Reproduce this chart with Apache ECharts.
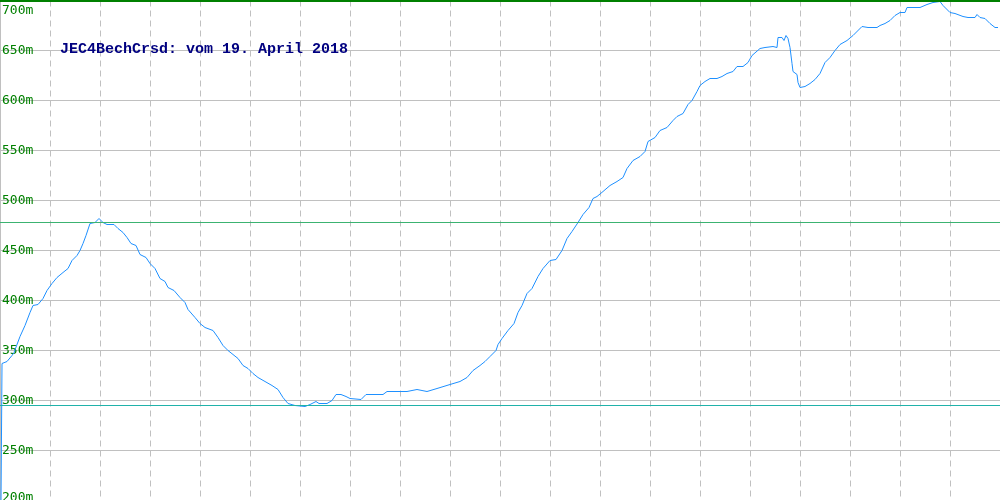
<!DOCTYPE html>
<html>
<head>
<meta charset="utf-8">
<script src="https://cdn.jsdelivr.net/npm/echarts@6/dist/echarts.min.js"></script>
<style>html,body{margin:0;padding:0;background:#fff}#c{width:1000px;height:500px}</style>
</head>
<body>
<div id="c"></div>
<script>
const titleText = 'JEC4BechCrsd: vom 19. April 2018';
const distances = [1,2,7,12,14,20,25,30,33,38,43,47,52,57,63,68,72,77,80,83,86,90,95,99,103,107,114,118,123,127,131,136,140,146,150,155,160,165,168,174,180,185,188,195,200,205,213,218,223,228,233,238,243,248,253,258,265,272,278,283,288,295,305,310,316,319,327,332,336,341,346,350,361,366,383,387,407,417,427,437,450,460,467,473,480,485,490,496,498,502,508,514,518,522,527,532,538,543,550,556,562,567,572,578,583,589,593,597,603,610,617,623,627,633,640,645,648,655,660,667,673,677,683,688,692,697,700,705,710,717,722,727,733,737,743,748,752,760,765,773,777,778,782,784,786,788,790,792,793,797,798,800,805,810,815,820,825,830,835,840,847,853,862,868,877,880,885,890,895,900,905,907,920,927,933,940,943,950,955,957,963,968,975,977,980,985,990,995,998];
const elevations = [200,337,339,345,348,364,375,388,395,396,402,410,417,423,428,432,440,445,450,457,465,477,478,482,478,476,476,472,468,463,457,455,446,443,437,432,422,419,413,410,403,398,391,383,377,373,370,363,355,350,346,342,335,332,327,323,319,315,311,303,297,295,294,296,299,297,297,300,306,306,304,302,301,306,306,309,309,311,309,312,316,319,323,330,335,339,344,350,356,362,370,377,388,395,407,412,424,432,440,441,450,462,469,478,486,493,502,504,509,515,519,523,532,540,544,549,559,563,570,573,580,584,587,596,600,609,615,619,622,622,624,627,629,634,634,638,645,652,653,654,653,663,663,660,665,662,653,637,629,626,618,613,614,617,621,627,638,643,650,656,660,665,674,673,673,675,677,680,685,688,688,693,693,696,698,699,695,688,687,685,684,683,683,686,683,682,677,673,673];
const refLines = [700, 478, 295];
const refColors = ['#008000', '#3cb371', '#20b2aa'];
const yTicks = [200, 250, 300, 350, 400, 450, 500, 550, 600, 650, 700];

const chart = echarts.init(document.getElementById('c'), null, {renderer: 'canvas'});
const seriesData = distances.map((d, i) => [d, elevations[i]]);
const refSeries = refLines.map((v, i) => ({
  type: 'line', name: 'ref' + i, data: [], z: 2,
  color: refColors[i],
  markLine: {
    silent: true, symbol: ['none', 'none'], label: {show: false}, animation: false,
    emphasis: {disabled: true},
    lineStyle: {color: refColors[i], width: i === 0 ? 2 : 1, type: 'solid', opacity: 1},
    data: [{yAxis: v}]
  }
}));
chart.setOption({
  animation: false,
  backgroundColor: '#ffffff',
  title: {
    text: titleText, left: 60, top: 42, padding: 0,
    textStyle: {fontFamily: 'Liberation Mono', fontSize: 15, fontWeight: 'bold', color: '#000080'}
  },
  grid: {left: 0, right: 0, top: 0.5, bottom: -0.5, containLabel: false, outerBoundsMode: 'none'},
  xAxis: {
    type: 'value', min: 0, max: 1000, interval: 50,
    axisLine: {show: false}, axisTick: {show: false}, axisLabel: {show: false},
    splitLine: {show: true, showMinLine: false, lineStyle: {color: '#c0c0c0', type: [6, 4], width: 1}}
  },
  yAxis: {
    type: 'value', min: yTicks[0], max: yTicks[yTicks.length - 1], interval: 50,
    axisLine: {show: true, lineStyle: {color: '#c0c0c0'}}, axisTick: {show: false},
    axisLabel: {
      inside: true, margin: 2, color: '#008000', fontFamily: 'DejaVu Sans Mono', fontSize: 13, lineHeight: 20,
      formatter: v => v === 700 ? '\n' + v + 'm' : (v === 200 ? '{s|' + v + 'm}\n{h| }' : v + 'm'),
      rich: {s: {lineHeight: 18, fontFamily: 'DejaVu Sans Mono', fontSize: 13, color: '#008000'}, h: {lineHeight: 6, fontSize: 4}}
    },
    splitLine: {show: true, lineStyle: {color: '#c0c0c0', width: 1}}
  },
  series: [{
    type: 'line', name: 'profile', data: seriesData, showSymbol: false, symbol: 'none', smooth: false,
    lineStyle: {color: '#1e90ff', width: 1}, clip: true, z: 3
  }].concat(refSeries)
});
</script>
</body>
</html>
